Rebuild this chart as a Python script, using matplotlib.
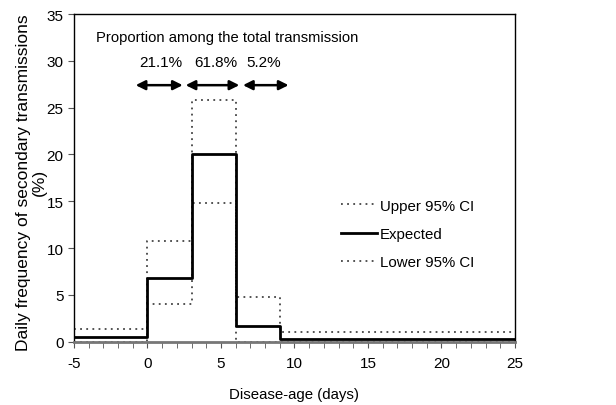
import matplotlib
import matplotlib.pyplot as plt

matplotlib.use("Agg")
plt.rcParams["font.family"] = ["Liberation Sans", "DejaVu Sans"]
plt.rcParams["axes.unicode_minus"] = False

# step edges (days) and daily frequency (%) per interval
edges = [-5, 0, 3, 6, 9, 25]
upper = [1.4, 10.8, 25.8, 4.8, 1.05]
expected = [0.5, 6.8, 20.1, 1.7, 0.3]
lower = [0.0, 4.0, 14.8, 0.0, 0.0]

arrow_spans = [(-0.8, 2.4), (2.6, 6.25), (6.5, 9.6)]
proportions = ["21.1%", "61.8%", "5.2%"]
label_x = [0.92, 4.63, 7.93]

figure = plt.figure(figsize=(6.16, 4.06), dpi=100)
axis = figure.add_axes([0.120, 0.156, 0.716, 0.807])


def _steps(values):
    return values + [values[-1]]


dot = dict(linestyle=(0, (1.0, 2.4)), color="#444444", linewidth=1.3)
axis.step(edges, _steps(upper), where="post", label="Upper 95% CI", **dot)
axis.step(edges, _steps(lower), where="post", label="Lower 95% CI", **dot)
axis.step(edges, _steps(expected), where="post", color="black", linewidth=2.0, label="Expected")

for (start, end), text, xpos in zip(arrow_spans, proportions, label_x):
    axis.annotate("", xy=(end, 27.4), xytext=(start, 27.4),
                  arrowprops=dict(arrowstyle="<|-|>", color="black", lw=1.8,
                                  mutation_scale=14, shrinkA=0, shrinkB=0))
    axis.text(xpos, 29.9, text, ha="center", va="center", fontsize=11)
axis.text(-3.5, 32.55, "Proportion among the total transmission", ha="left", va="center", fontsize=10.6)

axis.set_xlim(-5, 25)
axis.set_ylim(0, 35)
axis.set_xticks(range(-5, 26, 5))
axis.set_xticks(range(-5, 26), minor=True)
axis.set_yticks(range(0, 36, 5))
axis.tick_params(axis="both", labelsize=11, direction="out", length=4, color="#555555")
axis.tick_params(axis="x", which="minor", length=4, color="#555555")
axis.tick_params(axis="x", pad=6)
axis.spines["bottom"].set_color("#777777")
axis.spines["bottom"].set_linewidth(2.0)
for side in ("top", "right", "left"):
    axis.spines[side].set_linewidth(1.0)

axis.set_xlabel("Disease-age (days)", fontsize=10.8, labelpad=12.5)
axis.set_ylabel("Daily frequency of secondary transmissions\n(%)", fontsize=12.5, linespacing=1.05)
axis.yaxis.set_label_coords(-0.062, 0.489)

handles, labels = axis.get_legend_handles_labels()
order = [labels.index(name) for name in ("Upper 95% CI", "Expected", "Lower 95% CI")]
axis.legend([handles[i] for i in order], [labels[i] for i in order], frameon=False,
            fontsize=10.8, handlelength=2.4, handletextpad=0.2, labelspacing=0.95,
            loc="center left", bbox_to_anchor=(0.575, 0.329))

figure.savefig("out.png", dpi=100)
plt.close(figure)
